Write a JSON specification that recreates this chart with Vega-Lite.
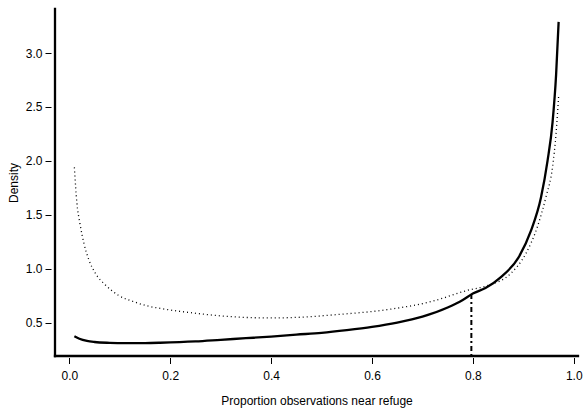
{
  "$schema": "https://vega.github.io/schema/vega-lite/v6.json",
  "autosize": "none",
  "width": 523,
  "height": 347,
  "padding": {"left": 55, "top": 9, "right": 9, "bottom": 56},
  "background": "white",
  "config": {
    "view": {"stroke": null},
    "font": "Liberation Sans",
    "axis": {
      "labelFont": "Liberation Sans",
      "titleFont": "Liberation Sans",
      "labelFontSize": 12,
      "titleFontSize": 12,
      "labelColor": "black",
      "titleColor": "black",
      "titleFontWeight": "normal",
      "tickColor": "black",
      "tickWidth": 1,
      "grid": false,
      "domain": false
    }
  },
  "datasets": {
    "solid": [
      {"x": 0.01, "y": 0.373}, {"x": 0.02, "y": 0.35}, {"x": 0.035, "y": 0.33},
      {"x": 0.05, "y": 0.32}, {"x": 0.08, "y": 0.312}, {"x": 0.11, "y": 0.309},
      {"x": 0.15, "y": 0.31}, {"x": 0.18, "y": 0.313}, {"x": 0.25, "y": 0.325},
      {"x": 0.3, "y": 0.34}, {"x": 0.35, "y": 0.355}, {"x": 0.4, "y": 0.37},
      {"x": 0.45, "y": 0.388}, {"x": 0.5, "y": 0.405}, {"x": 0.55, "y": 0.43},
      {"x": 0.6, "y": 0.46}, {"x": 0.65, "y": 0.5}, {"x": 0.7, "y": 0.555},
      {"x": 0.75, "y": 0.64}, {"x": 0.78, "y": 0.71}, {"x": 0.8, "y": 0.77},
      {"x": 0.825, "y": 0.82}, {"x": 0.855, "y": 0.92}, {"x": 0.89, "y": 1.1},
      {"x": 0.915, "y": 1.35}, {"x": 0.935, "y": 1.66}, {"x": 0.948, "y": 2.0},
      {"x": 0.958, "y": 2.36}, {"x": 0.965, "y": 2.8}, {"x": 0.97, "y": 3.29}
    ],
    "dotted": [
      {"x": 0.01, "y": 1.94}, {"x": 0.015, "y": 1.61}, {"x": 0.021, "y": 1.42},
      {"x": 0.029, "y": 1.234}, {"x": 0.039, "y": 1.079}, {"x": 0.052, "y": 0.955},
      {"x": 0.072, "y": 0.847}, {"x": 0.097, "y": 0.754}, {"x": 0.13, "y": 0.69},
      {"x": 0.155, "y": 0.654}, {"x": 0.18, "y": 0.632}, {"x": 0.255, "y": 0.584},
      {"x": 0.32, "y": 0.555}, {"x": 0.4, "y": 0.543}, {"x": 0.45, "y": 0.548},
      {"x": 0.53, "y": 0.574}, {"x": 0.63, "y": 0.62}, {"x": 0.72, "y": 0.698},
      {"x": 0.79, "y": 0.8}, {"x": 0.83, "y": 0.845}, {"x": 0.875, "y": 0.955},
      {"x": 0.905, "y": 1.14}, {"x": 0.928, "y": 1.39}, {"x": 0.945, "y": 1.667},
      {"x": 0.958, "y": 1.946}, {"x": 0.965, "y": 2.26}, {"x": 0.97, "y": 2.6}
    ],
    "marker": [{"x": 0.797, "ylo": 0.19, "yhi": 0.775}]
  },
  "layer": [
    {
      "data": {"name": "dotted"},
      "mark": {"type": "line", "color": "black", "strokeWidth": 1.3, "strokeDash": [1, 3], "interpolate": "monotone"},
      "encoding": {
        "x": {"field": "x", "type": "quantitative",
              "scale": {"domain": [-0.0284, 1.0084], "nice": false, "zero": false},
              "axis": {"values": [0, 0.2, 0.4, 0.6, 0.8, 1.0], "format": ".1f", "offset": 1.5, "tickSize": 6, "labelPadding": 7, "title": "Proportion observations near refuge", "titlePadding": 14}},
        "y": {"field": "y", "type": "quantitative",
              "scale": {"domain": [0.19, 3.409], "nice": false, "zero": false},
              "axis": {"values": [0.5, 1.0, 1.5, 2.0, 2.5, 3.0], "format": ".1f", "offset": 4, "tickSize": 6, "labelPadding": 3, "title": "Density", "titlePadding": 5}}
      }
    },
    {
      "data": {"name": "solid"},
      "mark": {"type": "line", "color": "black", "strokeWidth": 2.3, "interpolate": "monotone"},
      "encoding": {
        "x": {"field": "x", "type": "quantitative"},
        "y": {"field": "y", "type": "quantitative"}
      }
    },
    {
      "data": {"name": "marker"},
      "mark": {"type": "rule", "color": "black", "strokeWidth": 2, "strokeDash": [2, 3, 5, 3]},
      "encoding": {
        "x": {"field": "x", "type": "quantitative"},
        "y": {"field": "ylo", "type": "quantitative"},
        "y2": {"field": "yhi"}
      }
    },
    {
      "data": {"values": [{}]},
      "mark": {"type": "rule", "color": "black", "strokeWidth": 2.3, "strokeCap": "square"},
      "encoding": {
        "x": {"datum": -0.0284, "type": "quantitative"},
        "y": {"datum": 0.19, "type": "quantitative"},
        "y2": {"datum": 3.409}
      }
    },
    {
      "data": {"values": [{}]},
      "mark": {"type": "rule", "color": "black", "strokeWidth": 2.3, "strokeCap": "square"},
      "encoding": {
        "y": {"datum": 0.19, "type": "quantitative"},
        "x": {"datum": -0.0284, "type": "quantitative"},
        "x2": {"datum": 1.0084}
      }
    }
  ]
}
